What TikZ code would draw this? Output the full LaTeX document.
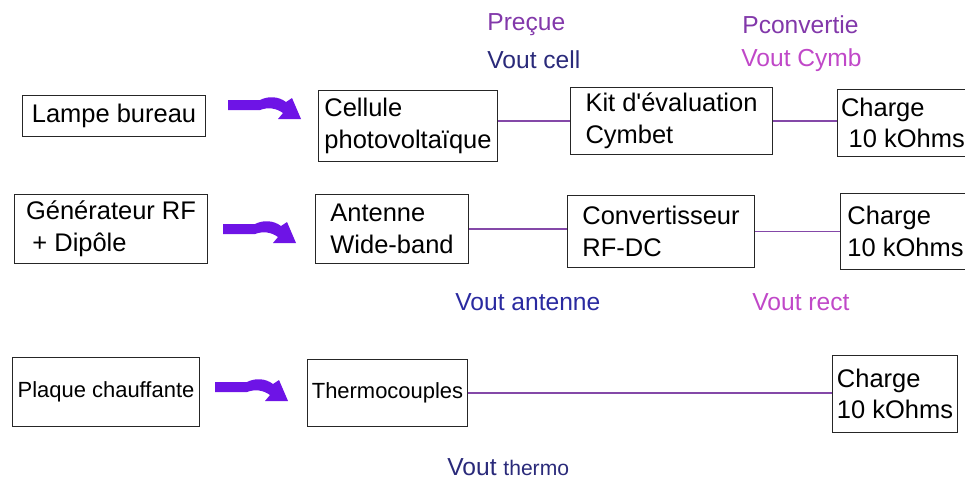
\documentclass[tikz,border=0pt]{standalone}
\usepackage{fontspec}
\setmainfont{Liberation Sans}
\usepackage{tikz}
\usepackage{xcolor}

\definecolor{wirecol}{HTML}{8448A8}
\definecolor{arrowcol}{HTML}{6E14E6}
\definecolor{pcol}{HTML}{8238AA}
\definecolor{navycol}{HTML}{2A2A7A}
\definecolor{pinkcol}{HTML}{C048C8}
\definecolor{bluecol}{HTML}{2A2AA0}

\tikzset{
	blk/.style={draw=black!85, line width=0.6pt, anchor=north west, align=left, inner sep=2pt, font=\fontsize{14.5}{18}\selectfont},
	wire/.style={draw=wirecol, line width=1.1pt},
	lbl/.style={anchor=west, inner sep=0pt, font=\fontsize{14}{16}\selectfont},
	bentarrow/.pic={
		\fill[arrowcol] (0,-5) -- (32,-5) .. controls (40,-9) and (50,-9) .. (58,-3) -- (64,-7) -- (73,14) -- (50,14) -- (55,8) .. controls (48,3) and (40,2) .. (32,5) -- (0,5) -- cycle;
	}
}

\begin{document}
\begin{tikzpicture}[x=0.02cm, y=-0.02cm]
			\clip (0,0) rectangle (965,480);
			
			\node[blk, minimum width=3.66cm, minimum height=0.82cm] (lamp) at (22,95) {Lampe bureau};
			\node[blk, minimum width=3.58cm, minimum height=1.42cm] (cell) at (318,90) {Cellule\\photovoltaïque};
			\node[blk, minimum width=4.04cm, minimum height=1.34cm] (kit) at (570,87) {Kit d\textquotesingle évaluation\\Cymbet};
			\node[blk, minimum width=2.50cm, minimum height=1.34cm] (chargeA) at (837,89) {Charge\\\hspace*{0.3em}10 kOhms};
			
			\node[blk, minimum width=3.86cm, minimum height=1.38cm] (gen) at (14,194) {Générateur RF\\\hspace*{0.25em}+ Dipôle};
			\node[blk, minimum width=3.06cm, minimum height=1.38cm] (ant) at (315,194) {Antenne\\Wide-band};
			\node[blk, minimum width=3.74cm, minimum height=1.44cm] (conv) at (567,195) {Convertisseur\\RF-DC};
			\node[blk, minimum width=2.60cm, minimum height=1.52cm] (chargeB) at (840,193) {Charge\\10 kOhms};
			
			\node[blk, minimum width=3.74cm, minimum height=1.38cm, font=\fontsize{12.5}{15}\selectfont] (plaque) at (12,357) {Plaque chauffante};
			\node[blk, minimum width=3.20cm, minimum height=1.34cm, font=\fontsize{12.5}{15}\selectfont] (thermo) at (307,359) {Thermocouples};
			\node[blk, minimum width=2.50cm, minimum height=1.54cm] (chargeC) at (832,355) {Charge\\10 kOhms};
			
			\pic at (228,105) {bentarrow};
			\pic at (223,229) {bentarrow};
			\pic at (215,387) {bentarrow};
			
			\draw[wire] (kit.west -| cell.east) -- (kit.west);
			\draw[wire] (kit.east) -- (kit.east -| chargeA.west);
			\draw[wire] (ant.east) -- (ant.east -| conv.west);
			\draw[wire] (conv.east) -- (conv.east -| chargeB.west);
			\draw[wire] (thermo.east) -- (thermo.east -| chargeC.west);
			
			\node[lbl, text=pcol] (preq) at (487,25) {Preçue};
			\node[lbl, text=navycol] (vcell) at (487,60) {Vout cell};
			\node[lbl, text=pcol] (pconv) at (742,25) {Pconvertie};
			\node[lbl, text=pinkcol] (vcymb) at (741,60) {Vout Cymb};
			\node[lbl, text=bluecol] (vant) at (455,302) {Vout antenne};
			\node[lbl, text=pinkcol] (vrect) at (752,302) {Vout rect};
			\node[lbl, text=navycol] (vtherm) at (447,467) {Vout {\fontsize{12}{14}\selectfont thermo}};
		\end{tikzpicture}
\end{document}
